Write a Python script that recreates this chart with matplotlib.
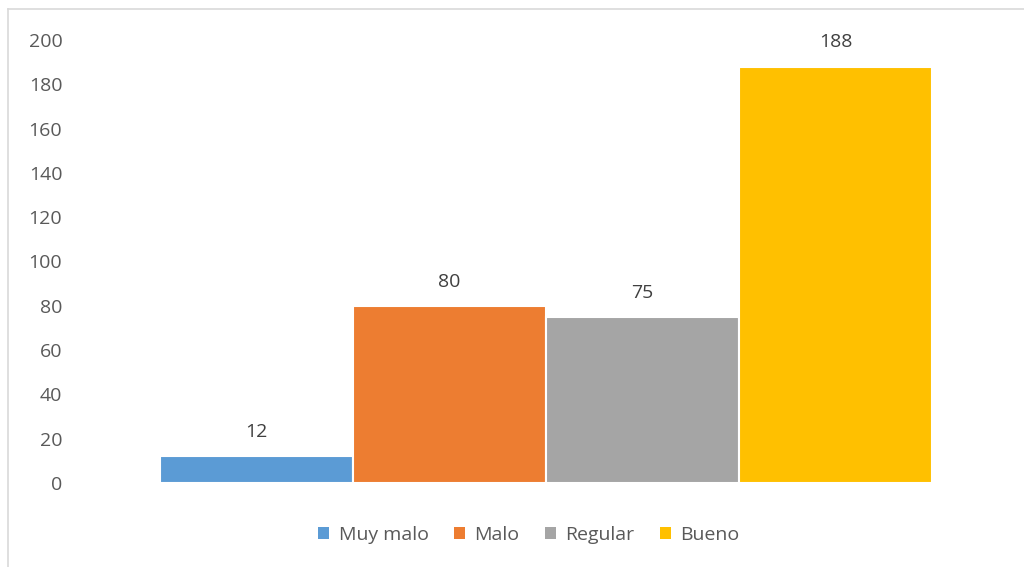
import matplotlib
matplotlib.use("Agg")
import matplotlib.pyplot as plt
from matplotlib.lines import Line2D
from matplotlib.patches import Patch

plt.rcParams['font.family'] = ['Open Sans', 'DejaVu Sans']

series = ["Muy malo", "Malo", "Regular", "Bueno"]
values = [12, 80, 75, 188]
colors = ["#5B9BD5", "#ED7D31", "#A5A5A5", "#FFC000"]
yticks = [0, 20, 40, 60, 80, 100, 120, 140, 160, 180, 200]

W, H = 1024, 567
fig = plt.figure(figsize=(W / 100, H / 100), dpi=100)

# chart frame (only top and left edges visible)
fig.add_artist(Line2D([8 / W, 8 / W], [0, 1 - 9 / H], color="#d9d9d9", lw=1.2))
fig.add_artist(Line2D([8 / W, 1], [1 - 9 / H, 1 - 9 / H], color="#d9d9d9", lw=1.2))

ax = fig.add_axes([72 / W, 1 - 483 / H, 948 / W, (483 - 40) / H])
bw = 0.2036
n = len(values)
for i, (s, v, c) in enumerate(zip(series, values, colors)):
    x = (i - (n - 1) / 2) * bw
    ax.bar(x, v, width=bw, color=c, edgecolor="white", linewidth=1.5, label=s)
    ax.annotate(str(v), (x, v), xytext=(0, 11), textcoords="offset points",
                ha="center", va="bottom", fontsize=14, color="#404040")

ax.set_xlim(-0.5, 0.5)
ax.set_ylim(0, 200)
ax.set_yticks(yticks)
ax.set_xticks([])
for sp in ax.spines.values():
    sp.set_visible(False)
ax.tick_params(axis="y", length=0, pad=7, labelsize=14, labelcolor="#595959")

handles = [Patch(facecolor=c, edgecolor="none") for c in colors]
fig.legend(handles, series, loc="center", bbox_to_anchor=(529 / W, 1 - 535 / H),
           ncol=4, frameon=False, fontsize=14, labelcolor="#595959",
           handlelength=0.55, handleheight=0.55, handletextpad=0.5, columnspacing=1.3)

fig.savefig("out.png", dpi=100, facecolor="white")
